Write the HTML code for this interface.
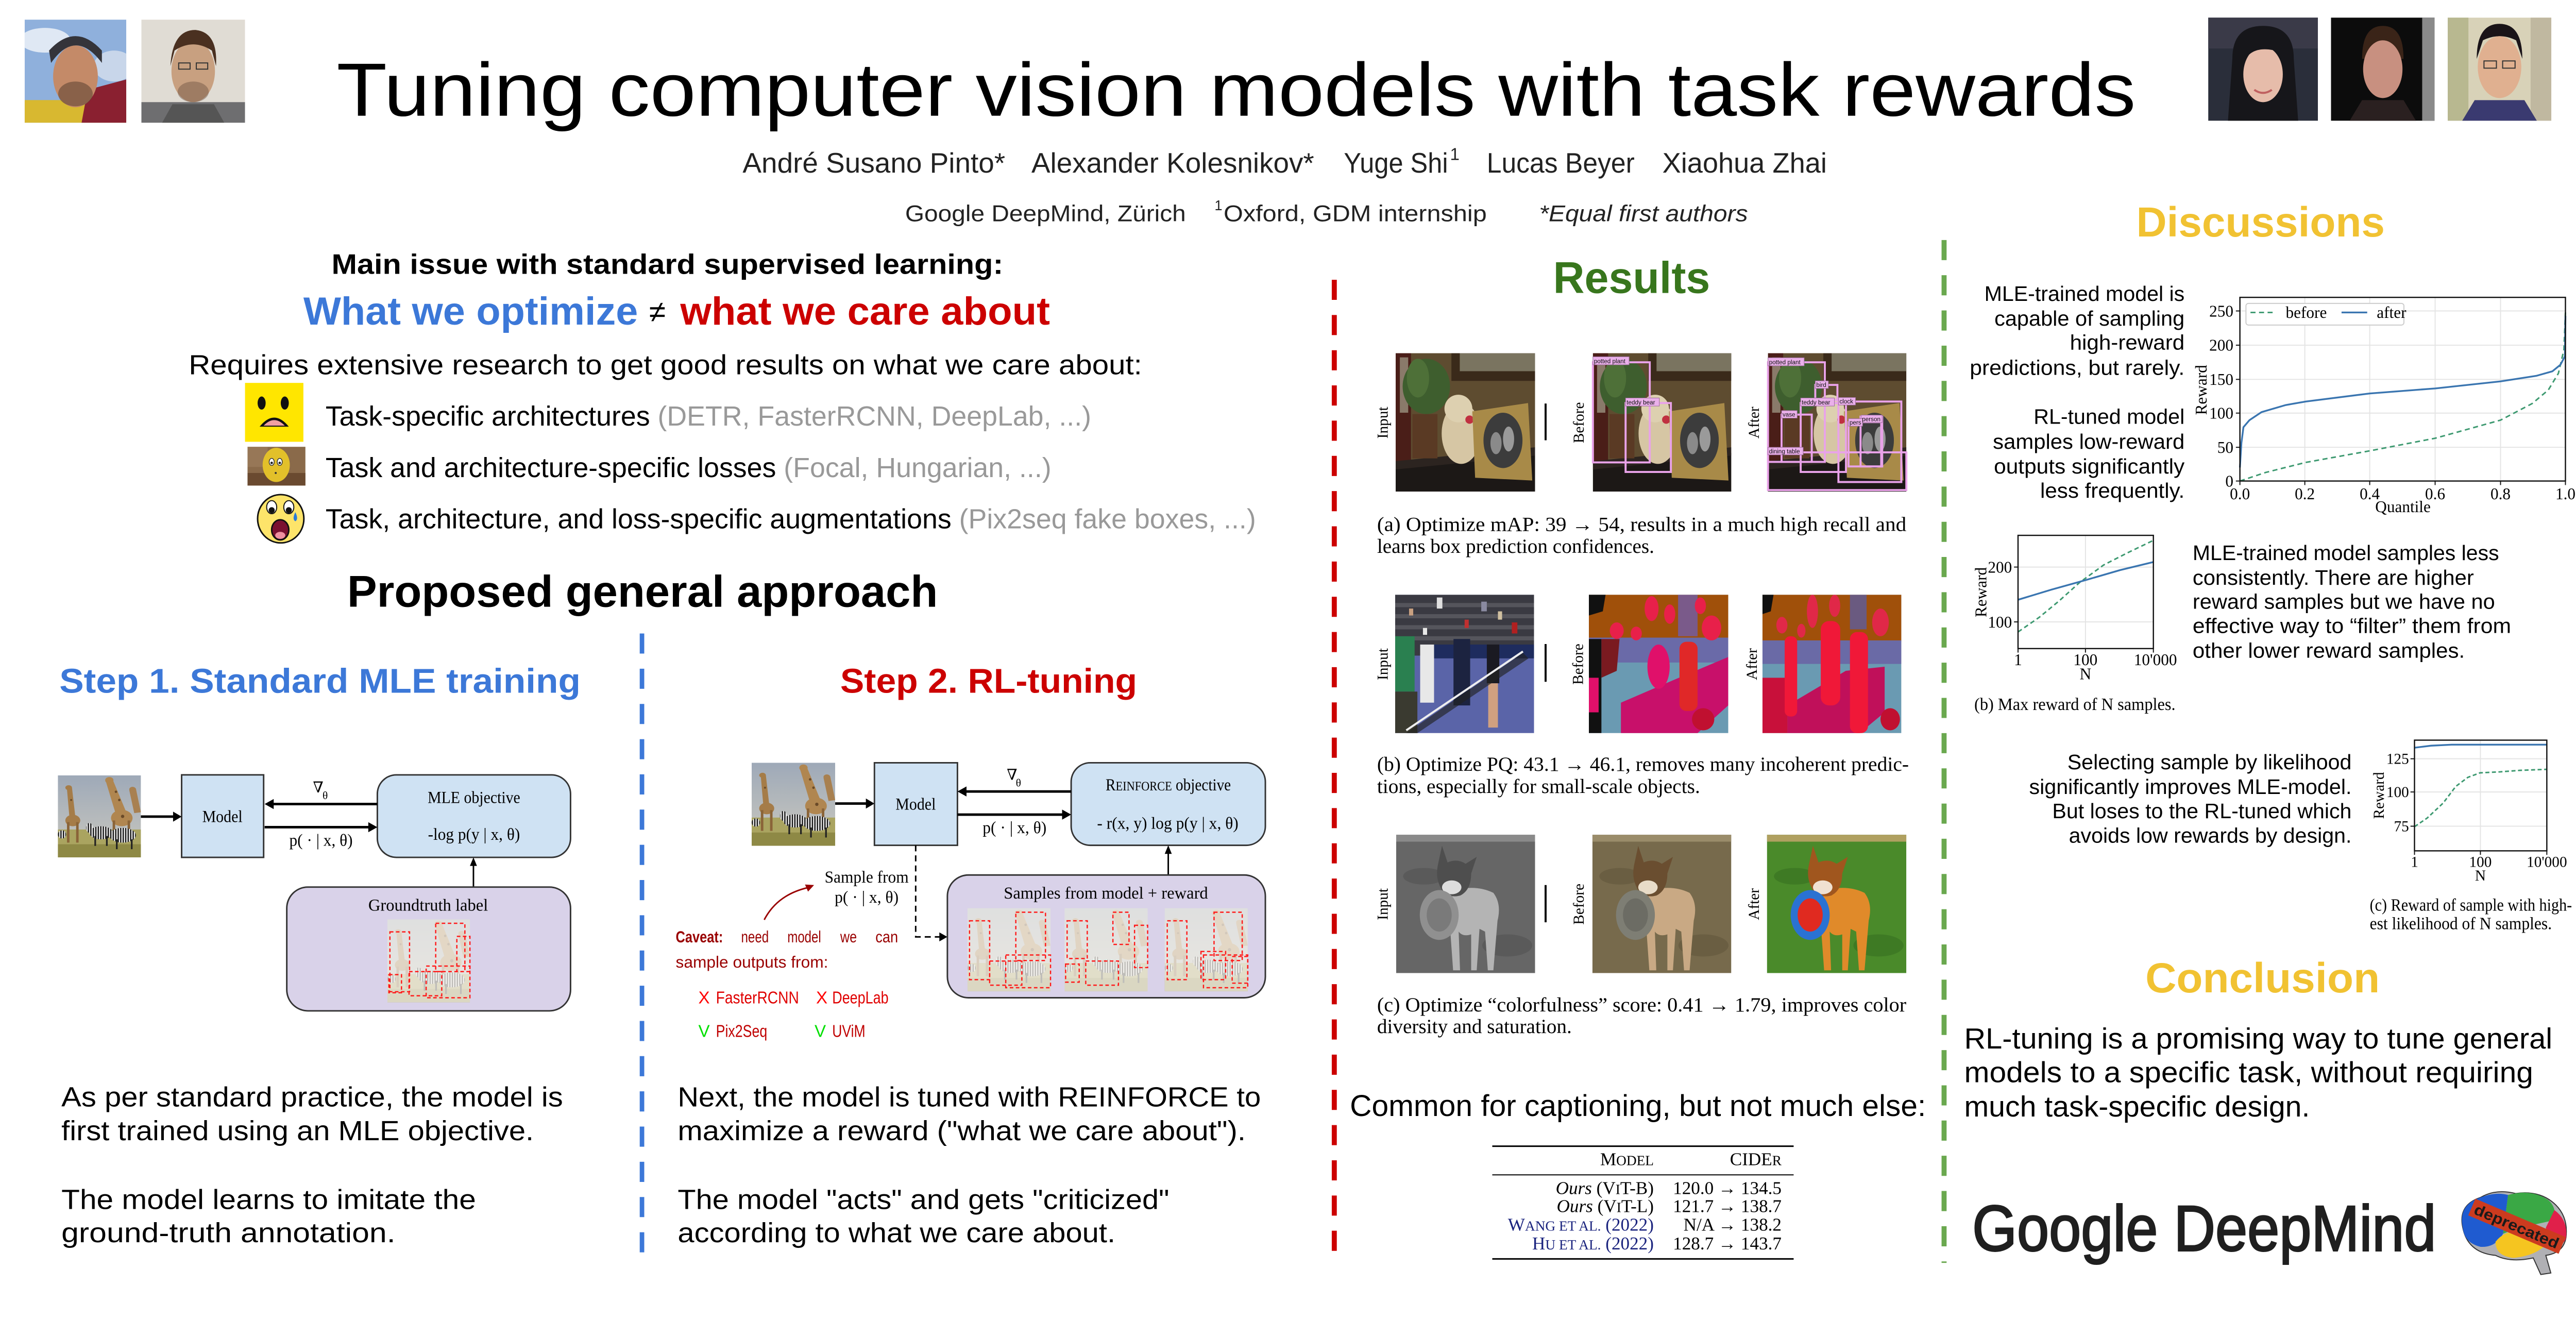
<!DOCTYPE html>
<html><head><meta charset="utf-8"><style>
html,body{margin:0;padding:0;background:#fff;width:100%;height:100%;overflow:hidden;}
svg.main{position:absolute;left:0;top:0;width:100vw;height:50vw;display:block}
.s{font-family:"Liberation Sans","DejaVu Sans",sans-serif;}
.r{font-family:"Liberation Serif","DejaVu Serif",serif;}
</style></head><body>
<svg class="main" viewBox="0 0 5120 2560" preserveAspectRatio="none" xmlns="http://www.w3.org/2000/svg">
<defs>
<linearGradient id="sky" x1="0" y1="0" x2="0" y2="1"><stop offset="0" stop-color="#9ea9b8"/><stop offset="1" stop-color="#cbc9bf"/></linearGradient>
<pattern id="zs" width="3" height="10" patternUnits="userSpaceOnUse"><rect width="1.5" height="10" fill="#151515"/><rect x="1.5" width="1.5" height="10" fill="#eeeeee"/></pattern>
<symbol id="gir" viewBox="0 0 100 100" preserveAspectRatio="none">
<rect width="100" height="100" fill="url(#sky)"/>
<rect y="66" width="100" height="34" fill="#aaa460"/>
<rect y="84" width="100" height="16" fill="#8e8945"/>
<polygon points="11,17 17,15 21,50 14,52" fill="#a57c48"/>
<ellipse cx="13" cy="15" rx="4" ry="3" fill="#a57c48"/>
<ellipse cx="18" cy="55" rx="9" ry="7" fill="#a57c48"/>
<rect x="11" y="57" width="3" height="25" fill="#8a6438"/><rect x="22" y="57" width="3" height="25" fill="#8a6438"/>
<polygon points="58,8 66,5 82,44 70,48" fill="#b08650"/>
<ellipse cx="62" cy="6" rx="5" ry="4" fill="#b08650"/>
<ellipse cx="77" cy="52" rx="13" ry="10" fill="#b08650"/>
<rect x="66" y="55" width="3" height="20" fill="#8a6438"/><rect x="84" y="55" width="3" height="20" fill="#8a6438"/>
<polygon points="86,18 94,16 100,45 92,46" fill="#a88050"/>
<ellipse cx="90" cy="17" rx="4" ry="3" fill="#a88050"/>
<circle cx="70" cy="20" r="1.5" fill="#6a4a28"/><circle cx="74" cy="30" r="1.5" fill="#6a4a28"/><circle cx="78" cy="50" r="2" fill="#6a4a28"/><circle cx="16" cy="30" r="1.2" fill="#6a4a28"/>
<ellipse cx="52" cy="70" rx="14" ry="8" fill="url(#zs)"/>
<ellipse cx="78" cy="73" rx="16" ry="9" fill="url(#zs)"/>
<ellipse cx="38" cy="64" rx="4" ry="6" fill="url(#zs)"/>
<rect x="44" y="74" width="2" height="12" fill="#222"/><rect x="58" y="74" width="2" height="12" fill="#222"/><rect x="70" y="78" width="2" height="12" fill="#222"/><rect x="88" y="78" width="2" height="12" fill="#222"/>
<ellipse cx="5" cy="72" rx="5" ry="5" fill="url(#zs)"/>
</symbol>
<symbol id="room" viewBox="0 0 100 100" preserveAspectRatio="none">
<rect width="100" height="100" fill="#5e4c30"/>
<rect x="0" y="0" width="11" height="82" fill="#4a1e18"/>
<rect x="3" y="3" width="6" height="40" fill="#8a7a6a"/>
<rect x="40" y="0" width="60" height="20" fill="#3a2a1a"/>
<rect x="46" y="0" width="54" height="13" fill="#7a7460"/>
<polygon points="0,82 100,72 100,100 0,100" fill="#1c1816"/>
<polygon points="0,78 100,68 100,74 0,84" fill="#2c2420"/>
<ellipse cx="22" cy="24" rx="17" ry="20" fill="#3e5e2e"/>
<ellipse cx="16" cy="18" rx="8" ry="14" fill="#4e7038"/>
<rect x="12" y="44" width="18" height="32" fill="#5a3a24"/>
<ellipse cx="47" cy="58" rx="14" ry="22" fill="#d6c6a4"/>
<circle cx="45" cy="40" r="10" fill="#ddd0b0"/>
<circle cx="53" cy="48" r="3" fill="#c03040"/>
<polygon points="55,42 95,36 98,92 57,90" fill="#a88a48"/>
<ellipse cx="77" cy="63" rx="14" ry="20" fill="#3c3c3c"/>
<ellipse cx="72" cy="65" rx="4" ry="8" fill="#8a8a8a"/><ellipse cx="81" cy="62" rx="4" ry="9" fill="#9a9a9a"/>
</symbol>
</defs>

<rect width="5120" height="2560" fill="#ffffff"/>

<!-- ===== Header photos ===== -->
<svg x="49" y="39" width="202" height="205" viewBox="0 0 100 100" preserveAspectRatio="none">
<rect width="100" height="100" fill="#8fb0dc"/>
<ellipse cx="20" cy="20" rx="25" ry="12" fill="#dfe8f4"/>
<ellipse cx="88" cy="45" rx="20" ry="15" fill="#c8d6ea"/>
<rect x="0" y="78" width="100" height="22" fill="#d8b830"/>
<polygon points="62,68 100,58 100,100 56,100" fill="#8a2030"/>
<ellipse cx="50" cy="55" rx="22" ry="30" fill="#c48a68"/>
<path d="M26,42 Q50,8 76,42 L76,30 Q50,2 24,30 Z" fill="#34343a"/>
<ellipse cx="50" cy="72" rx="17" ry="12" fill="#5a4030" opacity="0.55"/>
</svg>
<svg x="281" y="39" width="206" height="205" viewBox="0 0 100 100" preserveAspectRatio="none">
<rect width="100" height="100" fill="#e0dcd4"/>
<rect x="0" y="80" width="100" height="20" fill="#6e6e70"/>
<ellipse cx="50" cy="50" rx="21" ry="30" fill="#c8a080"/>
<path d="M28,45 Q30,10 52,10 Q74,12 72,45 L68,30 Q50,18 32,30 Z" fill="#4a3020"/>
<rect x="36" y="42" width="11" height="6" fill="none" stroke="#333" stroke-width="1"/><rect x="53" y="42" width="11" height="6" fill="none" stroke="#333" stroke-width="1"/>
<ellipse cx="50" cy="70" rx="15" ry="10" fill="#6a5040" opacity="0.45"/>
<polygon points="30,82 70,82 80,100 20,100" fill="#555"/>
</svg>
<svg x="4389" y="35" width="218" height="205" viewBox="0 0 100 100" preserveAspectRatio="none">
<rect width="100" height="100" fill="#2a2e3a"/>
<rect x="0" y="0" width="100" height="30" fill="#3a3a48"/>
<path d="M22,40 Q22,8 50,8 Q78,8 78,40 L82,100 L18,100 Z" fill="#16161a"/>
<ellipse cx="50" cy="55" rx="18" ry="27" fill="#e6bcaa"/>
<path d="M32,44 Q40,24 68,34 L68,28 Q50,14 32,30 Z" fill="#16161a"/>
<path d="M42,70 Q50,76 58,70" stroke="#c06060" stroke-width="2" fill="none"/>
</svg>
<svg x="4633" y="35" width="206" height="205" viewBox="0 0 100 100" preserveAspectRatio="none">
<rect width="100" height="100" fill="#0c0c0c"/>
<rect x="88" y="0" width="12" height="100" fill="#8a8a8a"/>
<path d="M30,40 Q30,8 50,8 Q70,8 70,40 Z" fill="#3a2418"/>
<ellipse cx="50" cy="50" rx="19" ry="28" fill="#c89080"/>
<polygon points="30,80 70,80 82,100 18,100" fill="#2a2020"/>
</svg>
<svg x="4865" y="35" width="206" height="205" viewBox="0 0 100 100" preserveAspectRatio="none">
<rect width="100" height="100" fill="#d8d2b8"/>
<rect x="0" y="0" width="20" height="100" fill="#b8b890"/>
<rect x="80" y="0" width="20" height="100" fill="#c0b8a0"/>
<path d="M28,40 Q28,6 50,6 Q72,6 72,40 L66,22 Q50,14 34,22 Z" fill="#1a1418"/>
<ellipse cx="50" cy="48" rx="21" ry="30" fill="#e0b090"/>
<rect x="35" y="42" width="12" height="7" fill="none" stroke="#333" stroke-width="1"/><rect x="53" y="42" width="12" height="7" fill="none" stroke="#333" stroke-width="1"/>
<polygon points="26,80 74,80 86,100 14,100" fill="#3a3a70"/>
</svg>

<!-- ===== Header text ===== -->
<text class="s" x="669" y="230" font-size="150" textLength="3576" lengthAdjust="spacingAndGlyphs" fill="#000">Tuning computer vision models with task rewards</text>
<g class="s" font-size="56" fill="#222">
<text x="1476" y="343" textLength="522" lengthAdjust="spacingAndGlyphs">André Susano Pinto*</text>
<text x="2050" y="343" textLength="562" lengthAdjust="spacingAndGlyphs">Alexander Kolesnikov*</text>
<text x="2671" y="343" textLength="207" lengthAdjust="spacingAndGlyphs">Yuge Shi</text>
<text x="2882" y="318" font-size="34">1</text>
<text x="2955" y="343" textLength="294" lengthAdjust="spacingAndGlyphs">Lucas Beyer</text>
<text x="3304" y="343" textLength="327" lengthAdjust="spacingAndGlyphs">Xiaohua Zhai</text>
</g>
<g class="s" font-size="46" fill="#222">
<text x="1799" y="440" textLength="558" lengthAdjust="spacingAndGlyphs">Google DeepMind, Zürich</text>
<text x="2414" y="418" font-size="28">1</text>
<text x="2432" y="440" textLength="523" lengthAdjust="spacingAndGlyphs">Oxford, GDM internship</text>
<text x="3059" y="440" font-style="italic" textLength="415" lengthAdjust="spacingAndGlyphs">*Equal first authors</text>
</g>

<!-- ===== Dashed dividers ===== -->
<line x1="1276" y1="1259" x2="1276" y2="2508" stroke="#3c78d8" stroke-width="9" stroke-dasharray="40 30"/>
<line x1="2652" y1="556" x2="2652" y2="2506" stroke="#cc0000" stroke-width="10" stroke-dasharray="40 30"/>
<line x1="3864" y1="477" x2="3864" y2="2510" stroke="#6aa84f" stroke-width="10" stroke-dasharray="40 30"/>

<!-- ===== Left column top ===== -->
<text class="s" x="659" y="544" font-size="56" font-weight="bold" textLength="1335" lengthAdjust="spacingAndGlyphs">Main issue with standard supervised learning:</text>
<text class="s" x="603" y="645" font-size="78" font-weight="bold" fill="#3c78d8" textLength="665" lengthAdjust="spacingAndGlyphs">What we optimize</text>
<text class="s" x="1290" y="640" font-size="60" fill="#000">≠</text>
<text class="s" x="1352" y="645" font-size="78" font-weight="bold" fill="#cc0000" textLength="735" lengthAdjust="spacingAndGlyphs">what we care about</text>
<text class="s" x="375" y="744" font-size="55" textLength="1895" lengthAdjust="spacingAndGlyphs">Requires  extensive research to get good results on what we care about:</text>

<!-- emoji 1 -->
<rect x="487" y="761" width="116" height="117" fill="#ffe600"/>
<ellipse cx="520" cy="801" rx="8" ry="13" fill="#111"/>
<ellipse cx="566" cy="801" rx="8" ry="13" fill="#111"/>
<path d="M516,848 Q545,812 574,848 Z" fill="#111"/>
<path d="M524,846 Q545,824 566,846 Z" fill="#f0a0a0"/>
<!-- emoji 2 -->
<rect x="492" y="888" width="115" height="77" fill="#8a6a4a"/>
<rect x="492" y="940" width="115" height="25" fill="#6a4a30"/>
<rect x="492" y="888" width="40" height="40" fill="#a08060" opacity="0.6"/>
<ellipse cx="549" cy="924" rx="27" ry="34" fill="#e2c02a"/>
<ellipse cx="540" cy="918" rx="5" ry="7" fill="#fff" stroke="#333" stroke-width="1.5"/>
<ellipse cx="556" cy="918" rx="5" ry="7" fill="#fff" stroke="#333" stroke-width="1.5"/>
<circle cx="540" cy="920" r="2.5" fill="#222"/><circle cx="556" cy="920" r="2.5" fill="#222"/>
<circle cx="548" cy="940" r="2" fill="#333"/>
<!-- emoji 3 -->
<ellipse cx="558" cy="1031" rx="46" ry="48" fill="#fde46a" stroke="#111" stroke-width="3"/>
<ellipse cx="540" cy="1008" rx="10" ry="13" fill="#fff" stroke="#111" stroke-width="2"/>
<ellipse cx="574" cy="1008" rx="10" ry="13" fill="#fff" stroke="#111" stroke-width="2"/>
<circle cx="540" cy="1014" r="6" fill="#111"/><circle cx="574" cy="1014" r="6" fill="#111"/>
<ellipse cx="557" cy="1053" rx="17" ry="20" fill="#7a1030" stroke="#111" stroke-width="3"/>
<ellipse cx="557" cy="1064" rx="10" ry="7" fill="#f090a0"/>
<path d="M587,1018 Q580,1032 587,1036 Q594,1032 587,1018 Z" fill="#2a7ad8"/>

<g class="s" font-size="55">
<text x="647" y="846"><tspan fill="#000">Task-specific architectures </tspan><tspan fill="#999">(DETR, FasterRCNN, DeepLab, ...)</tspan></text>
<text x="647" y="948"><tspan fill="#000">Task and architecture-specific losses </tspan><tspan fill="#999">(Focal, Hungarian, ...)</tspan></text>
<text x="647" y="1050"><tspan fill="#000">Task, architecture, and loss-specific augmentations </tspan><tspan fill="#999">(Pix2seq fake boxes, ...)</tspan></text>
</g>

<text class="s" x="690" y="1206" font-size="88" font-weight="bold" textLength="1174" lengthAdjust="spacingAndGlyphs">Proposed general approach</text>
<text class="s" x="118" y="1377" font-size="68" font-weight="bold" fill="#3c78d8" textLength="1036" lengthAdjust="spacingAndGlyphs">Step 1. Standard MLE training</text>
<text class="s" x="1670" y="1377" font-size="68" font-weight="bold" fill="#cc0000" textLength="590" lengthAdjust="spacingAndGlyphs">Step 2. RL-tuning</text>

<!-- ===== Left diagram (MLE) ===== -->
<use href="#gir" x="115" y="1541" width="165" height="163"/>
<rect x="361" y="1540" width="163" height="164" fill="#cfe2f3" stroke="#333" stroke-width="3"/>
<text class="r" x="442" y="1634" font-size="34" text-anchor="middle" textLength="80" lengthAdjust="spacingAndGlyphs">Model</text>
<line x1="280" y1="1623" x2="347" y2="1623" stroke="#000" stroke-width="5"/>
<polygon points="361,1623 344,1613 344,1633" fill="#000"/>
<rect x="750" y="1540" width="384" height="164" rx="38" fill="#cfe2f3" stroke="#333" stroke-width="3"/>
<text class="r" x="942" y="1596" font-size="34" text-anchor="middle" textLength="184" lengthAdjust="spacingAndGlyphs">MLE objective</text>
<text class="r" x="942" y="1669" font-size="34" text-anchor="middle" textLength="183" lengthAdjust="spacingAndGlyphs">-log p(y | x, θ)</text>
<line x1="750" y1="1598" x2="542" y2="1598" stroke="#000" stroke-width="5"/>
<polygon points="526,1598 544,1588 544,1608" fill="#000"/>
<line x1="526" y1="1644" x2="734" y2="1644" stroke="#000" stroke-width="5"/>
<polygon points="750,1644 732,1634 732,1654" fill="#000"/>
<text class="r" x="622" y="1575" font-size="30">∇</text>
<text class="r" x="641" y="1588" font-size="22">θ</text>
<text class="r" x="575" y="1681" font-size="34" textLength="126" lengthAdjust="spacingAndGlyphs">p( · | x, θ)</text>
<line x1="941" y1="1763" x2="941" y2="1718" stroke="#000" stroke-width="3"/>
<polygon points="941,1704 934,1721 948,1721" fill="#000"/>
<rect x="570" y="1763" width="564" height="246" rx="42" fill="#d9d2e9" stroke="#333" stroke-width="3"/>
<text class="r" x="851" y="1810" font-size="34" text-anchor="middle" textLength="238" lengthAdjust="spacingAndGlyphs">Groundtruth label</text>
<use href="#gir" x="770" y="1827" width="164" height="165"/>
<rect x="770" y="1827" width="164" height="165" fill="#f4f2ec" opacity="0.75"/>
<g fill="none" stroke="#ff1a1a" stroke-width="2.5" stroke-dasharray="7 5">
<rect x="775" y="1852" width="39" height="119"/>
<rect x="866" y="1835" width="58" height="96"/>
<rect x="908" y="1861" width="26" height="70"/>
<rect x="847" y="1920" width="87" height="63"/>
<rect x="813" y="1931" width="65" height="48"/>
<rect x="773" y="1937" width="25" height="36"/>
</g>

<!-- ===== Right diagram (RL) ===== -->
<use href="#gir" x="1494" y="1516" width="166" height="165"/>
<rect x="1738" y="1516" width="165" height="164" fill="#cfe2f3" stroke="#333" stroke-width="3"/>
<text class="r" x="1820" y="1609" font-size="34" text-anchor="middle" textLength="80" lengthAdjust="spacingAndGlyphs">Model</text>
<line x1="1660" y1="1597" x2="1724" y2="1597" stroke="#000" stroke-width="5"/>
<polygon points="1738,1597 1721,1587 1721,1607" fill="#000"/>
<rect x="2129" y="1516" width="386" height="164" rx="38" fill="#cfe2f3" stroke="#333" stroke-width="3"/>
<text class="r" x="2322" y="1571" font-size="34" text-anchor="middle" textLength="249" lengthAdjust="spacingAndGlyphs">R<tspan font-size="26">EINFORCE</tspan> objective</text>
<text class="r" x="2321" y="1647" font-size="34" text-anchor="middle" textLength="281" lengthAdjust="spacingAndGlyphs">- r(x, y) log p(y | x, θ)</text>
<line x1="2129" y1="1573" x2="1919" y2="1573" stroke="#000" stroke-width="5"/>
<polygon points="1903,1573 1921,1563 1921,1583" fill="#000"/>
<line x1="1903" y1="1619" x2="2113" y2="1619" stroke="#000" stroke-width="5"/>
<polygon points="2129,1619 2111,1609 2111,1629" fill="#000"/>
<text class="r" x="2001" y="1550" font-size="30">∇</text>
<text class="r" x="2019" y="1563" font-size="22">θ</text>
<text class="r" x="1953" y="1656" font-size="34" textLength="127" lengthAdjust="spacingAndGlyphs">p( · | x, θ)</text>
<path d="M1820,1680 V1862 H1868" fill="none" stroke="#000" stroke-width="3" stroke-dasharray="12 8"/>
<polygon points="1883,1862 1867,1853 1867,1871" fill="#000"/>
<line x1="2322" y1="1739" x2="2322" y2="1694" stroke="#000" stroke-width="3"/>
<polygon points="2322,1680 2315,1697 2329,1697" fill="#000"/>
<rect x="1883" y="1739" width="632" height="244" rx="42" fill="#d9d2e9" stroke="#333" stroke-width="3"/>
<text class="r" x="1995" y="1786" font-size="34" textLength="406" lengthAdjust="spacingAndGlyphs">Samples from model + reward</text>
<use href="#gir" x="1923" y="1805" width="165" height="165"/>
<use href="#gir" x="2116" y="1805" width="165" height="165"/>
<use href="#gir" x="2315" y="1805" width="165" height="165"/>
<g fill="#f4f2ec" opacity="0.75"><rect x="1923" y="1805" width="165" height="165"/><rect x="2116" y="1805" width="165" height="165"/><rect x="2315" y="1805" width="165" height="165"/></g>
<g fill="none" stroke="#ff1a1a" stroke-width="2.5" stroke-dasharray="7 5">
<rect x="1927" y="1830" width="40" height="117"/><rect x="2019" y="1813" width="59" height="96"/><rect x="1967" y="1910" width="64" height="48"/><rect x="1999" y="1898" width="89" height="65"/>
<rect x="2121" y="1830" width="40" height="75"/><rect x="2212" y="1813" width="32" height="64"/><rect x="2255" y="1839" width="26" height="84"/><rect x="2118" y="1916" width="27" height="36"/><rect x="2158" y="1910" width="65" height="48"/>
<rect x="2320" y="1830" width="39" height="117"/><rect x="2413" y="1813" width="56" height="96"/><rect x="2387" y="1891" width="49" height="56"/><rect x="2392" y="1898" width="88" height="65"/><rect x="2449" y="1901" width="31" height="53"/>
</g>
<text class="r" x="1639" y="1754" font-size="34" textLength="167" lengthAdjust="spacingAndGlyphs">Sample from</text>
<text class="r" x="1659" y="1794" font-size="34" textLength="127" lengthAdjust="spacingAndGlyphs">p( · | x, θ)</text>
<path d="M1519,1828 Q1545,1778 1606,1764" fill="none" stroke="#990000" stroke-width="3"/>
<polygon points="1618,1759 1600,1758 1606,1772" fill="#990000"/>
<g class="s" fill="#990000" font-size="32">
<text x="1343" y="1873" font-weight="bold" textLength="94" lengthAdjust="spacingAndGlyphs">Caveat:</text>
<text x="1473" y="1873" textLength="55" lengthAdjust="spacingAndGlyphs">need</text>
<text x="1565" y="1873" textLength="67" lengthAdjust="spacingAndGlyphs">model</text>
<text x="1670" y="1873" textLength="33" lengthAdjust="spacingAndGlyphs">we</text>
<text x="1740" y="1873" textLength="45" lengthAdjust="spacingAndGlyphs">can</text>
<text x="1343" y="1923" textLength="303" lengthAdjust="spacingAndGlyphs">sample outputs from:</text>
</g>
<g class="s" font-size="34">
<text x="1388" y="1994" fill="#ff0000">X</text>
<text x="1423" y="1994" fill="#e00000" textLength="165" lengthAdjust="spacingAndGlyphs">FasterRCNN</text>
<text x="1622" y="1994" fill="#ff0000">X</text>
<text x="1654" y="1994" fill="#e00000" textLength="112" lengthAdjust="spacingAndGlyphs">DeepLab</text>
<text x="1388" y="2061" fill="#00e000">V</text>
<text x="1423" y="2061" fill="#c00000" textLength="102" lengthAdjust="spacingAndGlyphs">Pix2Seq</text>
<text x="1619" y="2061" fill="#00e000">V</text>
<text x="1654" y="2061" fill="#c00000" textLength="66" lengthAdjust="spacingAndGlyphs">UViM</text>
</g>

<!-- bottom text -->
<g class="s" font-size="55" fill="#000">
<text x="122" y="2199" textLength="997" lengthAdjust="spacingAndGlyphs">As per standard practice, the model is</text>
<text x="122" y="2266" textLength="939" lengthAdjust="spacingAndGlyphs">first trained using an MLE objective.</text>
<text x="122" y="2403" textLength="824" lengthAdjust="spacingAndGlyphs">The model learns to imitate the</text>
<text x="122" y="2469" textLength="664" lengthAdjust="spacingAndGlyphs">ground-truth annotation.</text>
<text x="1347" y="2199" textLength="1159" lengthAdjust="spacingAndGlyphs">Next, the model is tuned with REINFORCE to</text>
<text x="1347" y="2266" textLength="1129" lengthAdjust="spacingAndGlyphs">maximize a reward ("what we care about").</text>
<text x="1347" y="2403" textLength="977" lengthAdjust="spacingAndGlyphs">The model "acts" and gets "criticized"</text>
<text x="1347" y="2469" textLength="870" lengthAdjust="spacingAndGlyphs">according to what we care about.</text>
</g>

<!-- ===== Results column ===== -->
<text class="s" x="3087" y="582" font-size="88" font-weight="bold" fill="#38761d" textLength="312" lengthAdjust="spacingAndGlyphs">Results</text>

<g class="r" font-size="30" fill="#000">
<text transform="translate(2758,840) rotate(-90)" text-anchor="middle">Input</text>
<text transform="translate(3148,840) rotate(-90)" text-anchor="middle">Before</text>
<text transform="translate(3496,840) rotate(-90)" text-anchor="middle">After</text>
<text transform="translate(2758,1320) rotate(-90)" text-anchor="middle">Input</text>
<text transform="translate(3146,1320) rotate(-90)" text-anchor="middle">Before</text>
<text transform="translate(3492,1320) rotate(-90)" text-anchor="middle">After</text>
<text transform="translate(2758,1797) rotate(-90)" text-anchor="middle">Input</text>
<text transform="translate(3148,1797) rotate(-90)" text-anchor="middle">Before</text>
<text transform="translate(3496,1797) rotate(-90)" text-anchor="middle">After</text>
</g>
<rect x="3070" y="802" width="4" height="73" fill="#000"/>
<rect x="3070" y="1280" width="4" height="75" fill="#000"/>
<rect x="3070" y="1759" width="4" height="74" fill="#000"/>

<!-- row a -->
<use href="#room" x="2774" y="702" width="277" height="275"/>
<use href="#room" x="3166" y="702" width="275" height="275"/>
<use href="#room" x="3514" y="702" width="275" height="275"/>
<g fill="none" stroke="#e9a2e9" stroke-width="4">
<rect x="3166" y="720" width="113" height="199"/>
<rect x="3231" y="801" width="90" height="137"/>
<rect x="3514" y="720" width="113" height="198"/>
<rect x="3608" y="765" width="44" height="30"/>
<rect x="3579" y="801" width="90" height="137"/>
<rect x="3654" y="798" width="125" height="160"/>
<rect x="3541" y="824" width="60" height="94"/>
<rect x="3674" y="839" width="65" height="88"/>
<rect x="3698" y="828" width="43" height="99"/>
<rect x="3514" y="899" width="275" height="75"/>
</g>
<g fill="#eab0ea" stroke="#9a6a9a" stroke-width="1">
<rect x="3166" y="709" width="72" height="16"/><rect x="3231" y="791" width="67" height="16"/>
<rect x="3514" y="711" width="72" height="16"/><rect x="3608" y="757" width="26" height="15"/><rect x="3579" y="791" width="67" height="16"/><rect x="3654" y="790" width="34" height="15"/><rect x="3541" y="816" width="31" height="15"/><rect x="3699" y="825" width="42" height="15"/><rect x="3674" y="832" width="28" height="15"/><rect x="3514" y="889" width="70" height="15"/>
</g>
<g class="s" font-size="12" fill="#111">
<text x="3168" y="722">potted plant</text><text x="3233" y="804">teddy bear</text>
<text x="3516" y="724">potted plant</text><text x="3610" y="769">bird</text><text x="3581" y="804">teddy bear</text><text x="3656" y="802">clock</text><text x="3543" y="828">vase</text><text x="3701" y="837">person</text><text x="3676" y="844">pers</text><text x="3516" y="901">dining table</text>
</g>
<g class="r" font-size="40" fill="#000">
<text x="2737" y="1055" textLength="1052" lengthAdjust="spacingAndGlyphs">(a) Optimize mAP: 39 → 54, results in a much high recall and</text>
<text x="2737" y="1099" textLength="551" lengthAdjust="spacingAndGlyphs">learns box prediction confidences.</text>
</g>

<!-- row b -->
<svg x="2773" y="1182" width="276" height="275" viewBox="0 0 100 100" preserveAspectRatio="none">
<rect width="100" height="100" fill="#5a64a8"/>
<rect width="100" height="44" fill="#3a3a42"/>
<g fill="#55555c"><rect y="6" width="100" height="3"/><rect y="14" width="100" height="3"/><rect y="22" width="100" height="3"/><rect y="30" width="100" height="3"/></g>
<g><rect x="10" y="10" width="3" height="5" fill="#c8a080"/><rect x="30" y="2" width="4" height="8" fill="#e0e0e0"/><rect x="50" y="18" width="3" height="6" fill="#c03030"/><rect x="62" y="5" width="4" height="7" fill="#8a8aa0"/><rect x="84" y="20" width="4" height="8" fill="#b02020"/><rect x="20" y="24" width="3" height="5" fill="#e8e8e8"/><rect x="74" y="12" width="3" height="6" fill="#d0c0a0"/></g>
<rect x="28" y="36" width="72" height="10" fill="#1e2c5e"/>
<rect x="0" y="30" width="14" height="40" fill="#2a8050"/>
<rect x="0" y="70" width="16" height="30" fill="#3a3a30"/>
<rect x="18" y="36" width="10" height="42" fill="#e8e8e8"/>
<rect x="42" y="32" width="12" height="48" fill="#1c2340"/>
<rect x="66" y="36" width="9" height="28" fill="#1a1a22"/>
<rect x="67" y="64" width="7" height="32" fill="#d0a080"/>
<polygon points="8,100 92,42 96,46 16,100" fill="#222" opacity="0.65"/>
<line x1="8" y1="98" x2="92" y2="41" stroke="#eee" stroke-width="1.5"/>
</svg>
<svg x="3158" y="1182" width="277" height="275" viewBox="0 0 100 100" preserveAspectRatio="none">
<rect width="100" height="100" fill="#6a9ab2"/>
<rect width="100" height="32" fill="#a0500a"/>
<rect y="31" width="100" height="18" fill="#6a6aa8"/>
<polygon points="0,0 12,0 10,12 0,15" fill="#111"/>
<rect x="0" y="32" width="9" height="68" fill="#111"/>
<rect x="0" y="60" width="7" height="25" fill="#e0106a"/>
<polygon points="23,100 23,78 60,62 100,45 100,80 78,100" fill="#c8106a"/>
<polygon points="9,32 22,32 20,55 9,60" fill="#7a1a20"/>
<ellipse cx="50" cy="52" rx="8" ry="16" fill="#e0106a"/>
<rect x="64" y="0" width="14" height="30" fill="#7a5a8a"/>
<rect x="65" y="34" width="13" height="50" rx="5" fill="#e02828"/>
<g fill="#e8204a"><ellipse cx="45" cy="10" rx="5" ry="9"/><ellipse cx="58" cy="14" rx="4" ry="7"/><ellipse cx="88" cy="24" rx="7" ry="9"/><ellipse cx="20" cy="26" rx="5" ry="6"/><ellipse cx="34" cy="28" rx="4" ry="5"/><ellipse cx="80" cy="8" rx="4" ry="6"/></g>
<ellipse cx="82" cy="90" rx="8" ry="8" fill="#c01030"/>
</svg>
<svg x="3503" y="1182" width="276" height="275" viewBox="0 0 100 100" preserveAspectRatio="none">
<rect width="100" height="100" fill="#6a9ab2"/>
<rect width="100" height="34" fill="#a0500a"/>
<rect y="33" width="100" height="17" fill="#6a6aa6"/>
<polygon points="0,0 8,0 6,12 0,14" fill="#111"/>
<rect x="0" y="60" width="18" height="40" fill="#c8103a"/>
<polygon points="18,100 18,80 60,55 88,52 88,85 70,100" fill="#c0105a"/>
<rect x="63" y="0" width="12" height="25" fill="#6a5a80"/>
<g fill="#f01838"><rect x="16" y="30" width="9" height="58" rx="4"/><rect x="42" y="19" width="14" height="61" rx="6"/><rect x="63" y="27" width="13" height="73" rx="5"/></g>
<g fill="#e02848"><ellipse cx="36" cy="12" rx="4" ry="12"/><ellipse cx="52" cy="8" rx="4" ry="8"/><ellipse cx="85" cy="20" rx="6" ry="10"/><ellipse cx="14" cy="22" rx="4" ry="6"/><ellipse cx="28" cy="26" rx="3" ry="5"/></g>
<ellipse cx="92" cy="90" rx="7" ry="8" fill="#c01030"/>
</svg>
<g class="r" font-size="40" fill="#000">
<text x="2737" y="1532" textLength="1057" lengthAdjust="spacingAndGlyphs">(b) Optimize PQ: 43.1 → 46.1, removes many incoherent predic-</text>
<text x="2737" y="1576" textLength="642" lengthAdjust="spacingAndGlyphs">tions, especially for small-scale objects.</text>
</g>

<!-- row c -->
<svg x="2775" y="1659" width="276" height="275" viewBox="0 0 100 100" preserveAspectRatio="none">
<rect width="100" height="100" fill="#666"/><rect width="100" height="5" fill="#8a8a8a"/>
<ellipse cx="20" cy="30" rx="15" ry="6" fill="#5a5a5a"/><ellipse cx="80" cy="80" rx="18" ry="8" fill="#5a5a5a"/>
<path d="M42,40 Q58,36 70,42 Q76,50 73,62 L70,98 L66,98 L64,70 L60,68 L58,98 L54,98 L54,72 Q48,74 45,70 L46,98 L41,98 L39,70 Q36,55 42,40 Z" fill="#b4b4b4"/>
<path d="M30,22 L33,8 L37,20 Q44,17 50,21 L58,16 L54,28 Q54,40 46,44 Q38,46 33,40 Q28,32 30,22 Z" fill="#4e4e4e"/>
<ellipse cx="40" cy="38" rx="7" ry="5" fill="#ddd"/>
<ellipse cx="31" cy="58" rx="14" ry="18" fill="#909090"/><ellipse cx="31" cy="58" rx="9" ry="12" fill="#7a7a7a"/>
</svg>
<svg x="3165" y="1659" width="276" height="275" viewBox="0 0 100 100" preserveAspectRatio="none">
<rect width="100" height="100" fill="#776a4c"/><rect width="100" height="5" fill="#9a8c6a"/>
<ellipse cx="20" cy="30" rx="15" ry="6" fill="#6a5e42"/><ellipse cx="80" cy="80" rx="18" ry="8" fill="#6a5e42"/>
<path d="M42,40 Q58,36 70,42 Q76,50 73,62 L70,98 L66,98 L64,70 L60,68 L58,98 L54,98 L54,72 Q48,74 45,70 L46,98 L41,98 L39,70 Q36,55 42,40 Z" fill="#c9a984"/>
<path d="M30,22 L33,8 L37,20 Q44,17 50,21 L58,16 L54,28 Q54,40 46,44 Q38,46 33,40 Q28,32 30,22 Z" fill="#6a4e30"/>
<ellipse cx="40" cy="38" rx="7" ry="5" fill="#e8dcc8"/>
<ellipse cx="31" cy="58" rx="14" ry="18" fill="#7e7e74"/><ellipse cx="31" cy="58" rx="9" ry="12" fill="#6c6c64"/>
</svg>
<svg x="3512" y="1659" width="277" height="275" viewBox="0 0 100 100" preserveAspectRatio="none">
<rect width="100" height="100" fill="#4a8a2a"/><rect width="100" height="5" fill="#b0a060"/>
<ellipse cx="20" cy="30" rx="15" ry="6" fill="#3e7a24"/><ellipse cx="80" cy="80" rx="18" ry="8" fill="#3e7a24"/>
<path d="M42,40 Q58,36 70,42 Q76,50 73,62 L70,98 L66,98 L64,70 L60,68 L58,98 L54,98 L54,72 Q48,74 45,70 L46,98 L41,98 L39,70 Q36,55 42,40 Z" fill="#e08a2a"/>
<path d="M30,22 L33,8 L37,20 Q44,17 50,21 L58,16 L54,28 Q54,40 46,44 Q38,46 33,40 Q28,32 30,22 Z" fill="#a0561e"/>
<ellipse cx="40" cy="38" rx="7" ry="5" fill="#f0e0d0"/>
<ellipse cx="31" cy="58" rx="14" ry="18" fill="#2a72d2"/><ellipse cx="31" cy="58" rx="9" ry="12" fill="#e02a20"/>
</svg>
<g class="r" font-size="40" fill="#000">
<text x="2737" y="2010" textLength="1052" lengthAdjust="spacingAndGlyphs">(c) Optimize “colorfulness” score: 0.41 → 1.79, improves color</text>
<text x="2737" y="2053" textLength="387" lengthAdjust="spacingAndGlyphs">diversity and saturation.</text>
</g>

<text class="s" x="2683" y="2218" font-size="60" textLength="1145" lengthAdjust="spacingAndGlyphs">Common for captioning, but not much else:</text>

<!-- table -->
<line x1="2966" y1="2278" x2="3565" y2="2278" stroke="#000" stroke-width="3"/>
<line x1="2966" y1="2335" x2="3565" y2="2335" stroke="#000" stroke-width="2"/>
<line x1="2966" y1="2502" x2="3565" y2="2502" stroke="#000" stroke-width="3"/>
<g class="r" font-size="36" fill="#000" text-anchor="end">
<text x="3287" y="2316">M<tspan font-size="28">ODEL</tspan></text>
<text x="3541" y="2316">CIDE<tspan font-size="28">R</tspan></text>
<text x="3287" y="2373"><tspan font-style="italic">Ours</tspan> (V<tspan font-size="28">I</tspan>T-B)</text>
<text x="3287" y="2409"><tspan font-style="italic">Ours</tspan> (V<tspan font-size="28">I</tspan>T-L)</text>
<text x="3287" y="2446" fill="#1a237e">W<tspan font-size="28">ANG ET AL.</tspan> (2022)</text>
<text x="3287" y="2483" fill="#1a237e">H<tspan font-size="28">U ET AL.</tspan> (2022)</text>
<text x="3541" y="2373">120.0 → 134.5</text>
<text x="3541" y="2409">121.7 → 138.7</text>
<text x="3541" y="2446">N/A → 138.2</text>
<text x="3541" y="2483">128.7 → 143.7</text>
</g>

<!-- ===== Discussions ===== -->
<text class="s" x="4246" y="470" font-size="84" font-weight="bold" fill="#f1c232" textLength="494" lengthAdjust="spacingAndGlyphs">Discussions</text>
<g class="s" font-size="42" fill="#000" text-anchor="end">
<text x="4342" y="598" textLength="398" lengthAdjust="spacingAndGlyphs">MLE-trained model is</text>
<text x="4342" y="647" textLength="378" lengthAdjust="spacingAndGlyphs">capable of sampling</text>
<text x="4342" y="695" textLength="228" lengthAdjust="spacingAndGlyphs">high-reward</text>
<text x="4342" y="745" textLength="427" lengthAdjust="spacingAndGlyphs">predictions, but rarely.</text>
<text x="4342" y="842" textLength="300" lengthAdjust="spacingAndGlyphs">RL-tuned model</text>
<text x="4342" y="892" textLength="381" lengthAdjust="spacingAndGlyphs">samples low-reward</text>
<text x="4342" y="941" textLength="379" lengthAdjust="spacingAndGlyphs">outputs significantly</text>
<text x="4342" y="989" textLength="287" lengthAdjust="spacingAndGlyphs">less frequently.</text>
</g>

<!-- chart 1 -->
<g stroke="#e4e4e4" stroke-width="2">
<line x1="4581" y1="591" x2="4581" y2="956"/><line x1="4710" y1="591" x2="4710" y2="956"/><line x1="4840" y1="591" x2="4840" y2="956"/><line x1="4970" y1="591" x2="4970" y2="956"/>
<line x1="4452" y1="618" x2="5099" y2="618"/><line x1="4452" y1="686" x2="5099" y2="686"/><line x1="4452" y1="754" x2="5099" y2="754"/><line x1="4452" y1="821" x2="5099" y2="821"/><line x1="4452" y1="889" x2="5099" y2="889"/>
</g>
<polyline fill="none" stroke="#3d9970" stroke-width="3" stroke-dasharray="10 7" points="4452,956 4503,939 4583,919 4710,896 4840,871 4970,835 5033,802 5065,775 5085,742 5096,695 5099,621"/>
<polyline fill="none" stroke="#3a75b0" stroke-width="3.5" points="4452,929 4455,880 4459,849 4471,835 4495,819 4543,805 4583,798 4710,782 4840,772 4970,758 5041,747 5073,738 5089,725 5098,708 5099,628"/>
<rect x="4452" y="591" width="647" height="365" fill="none" stroke="#111" stroke-width="2.5"/>
<rect x="4464" y="603" width="314" height="43" rx="5" fill="#fff" stroke="#ccc" stroke-width="2"/>
<line x1="4473" y1="621" x2="4523" y2="621" stroke="#3d9970" stroke-width="3" stroke-dasharray="10 7"/>
<line x1="4654" y1="621" x2="4705" y2="621" stroke="#3a75b0" stroke-width="3.5"/>
<g class="r" font-size="32" fill="#000">
<text x="4543" y="632">before</text><text x="4724" y="632">after</text>
</g>
<g stroke="#111" stroke-width="2">
<line x1="4444" y1="618" x2="4452" y2="618"/><line x1="4444" y1="686" x2="4452" y2="686"/><line x1="4444" y1="754" x2="4452" y2="754"/><line x1="4444" y1="821" x2="4452" y2="821"/><line x1="4444" y1="889" x2="4452" y2="889"/><line x1="4444" y1="956" x2="4452" y2="956"/>
<line x1="4452" y1="956" x2="4452" y2="964"/><line x1="4581" y1="956" x2="4581" y2="964"/><line x1="4710" y1="956" x2="4710" y2="964"/><line x1="4840" y1="956" x2="4840" y2="964"/><line x1="4970" y1="956" x2="4970" y2="964"/><line x1="5099" y1="956" x2="5099" y2="964"/>
</g>
<g class="r" font-size="32" fill="#000" text-anchor="end">
<text x="4439" y="629">250</text><text x="4439" y="697">200</text><text x="4439" y="765">150</text><text x="4439" y="832">100</text><text x="4439" y="900">50</text><text x="4439" y="967">0</text>
</g>
<g class="r" font-size="32" fill="#000" text-anchor="middle">
<text x="4452" y="992">0.0</text><text x="4581" y="992">0.2</text><text x="4710" y="992">0.4</text><text x="4840" y="992">0.6</text><text x="4970" y="992">0.8</text><text x="5099" y="992">1.0</text>
<text x="4776" y="1018">Quantile</text>
<text transform="translate(4386,775) rotate(-90)">Reward</text>
</g>

<!-- chart 2 -->
<g stroke="#e4e4e4" stroke-width="2">
<line x1="4145" y1="1064" x2="4145" y2="1289"/>
<line x1="4011" y1="1127" x2="4280" y2="1127"/><line x1="4011" y1="1236" x2="4280" y2="1236"/>
</g>
<polyline fill="none" stroke="#3d9970" stroke-width="3" stroke-dasharray="9 6" points="4011,1256 4053,1227 4093,1194 4133,1158 4181,1123 4230,1098 4280,1074"/>
<polyline fill="none" stroke="#3a75b0" stroke-width="3.5" points="4011,1192 4077,1172 4145,1153 4214,1133 4280,1117"/>
<rect x="4011" y="1064" width="269" height="225" fill="none" stroke="#111" stroke-width="2.5"/>
<g stroke="#111" stroke-width="2"><line x1="4003" y1="1127" x2="4011" y2="1127"/><line x1="4003" y1="1236" x2="4011" y2="1236"/><line x1="4011" y1="1289" x2="4011" y2="1297"/><line x1="4145" y1="1289" x2="4145" y2="1297"/><line x1="4280" y1="1289" x2="4280" y2="1297"/></g>
<g class="r" font-size="32" fill="#000">
<text x="3999" y="1138" text-anchor="end">200</text><text x="3999" y="1247" text-anchor="end">100</text>
<text x="4011" y="1322" text-anchor="middle">1</text><text x="4145" y="1322" text-anchor="middle">100</text><text x="4284" y="1322" text-anchor="middle">10'000</text>
<text x="4145" y="1350" text-anchor="middle">N</text>
<text transform="translate(3948,1177) rotate(-90)" text-anchor="middle">Reward</text>
<text x="3924" y="1411" font-size="35" textLength="400" lengthAdjust="spacingAndGlyphs">(b) Max reward of N samples.</text>
</g>
<g class="s" font-size="42" fill="#000">
<text x="4358" y="1113" textLength="609" lengthAdjust="spacingAndGlyphs">MLE-trained model samples less</text>
<text x="4358" y="1162" textLength="559" lengthAdjust="spacingAndGlyphs">consistently. There are higher</text>
<text x="4358" y="1210" textLength="601" lengthAdjust="spacingAndGlyphs">reward samples but we have no</text>
<text x="4358" y="1258" textLength="633" lengthAdjust="spacingAndGlyphs">effective way to “filter” them from</text>
<text x="4358" y="1307" textLength="541" lengthAdjust="spacingAndGlyphs">other lower reward samples.</text>
</g>

<!-- chart 3 -->
<g class="s" font-size="42" fill="#000" text-anchor="end">
<text x="4674" y="1529" textLength="565" lengthAdjust="spacingAndGlyphs">Selecting sample by likelihood</text>
<text x="4674" y="1578" textLength="641" lengthAdjust="spacingAndGlyphs">significantly improves MLE-model.</text>
<text x="4674" y="1626" textLength="595" lengthAdjust="spacingAndGlyphs">But loses to the RL-tuned which</text>
<text x="4674" y="1675" textLength="562" lengthAdjust="spacingAndGlyphs">avoids low rewards by design.</text>
</g>
<g stroke="#e4e4e4" stroke-width="2">
<line x1="4930" y1="1471" x2="4930" y2="1691"/>
<line x1="4799" y1="1508" x2="5062" y2="1508"/><line x1="4799" y1="1574" x2="5062" y2="1574"/><line x1="4799" y1="1642" x2="5062" y2="1642"/>
</g>
<polyline fill="none" stroke="#3d9970" stroke-width="3" stroke-dasharray="8 5" points="4799,1643 4824,1626 4856,1596 4881,1563 4905,1545 4929,1536 4969,1534 5009,1531 5062,1529"/>
<polyline fill="none" stroke="#3a75b0" stroke-width="3.5" points="4799,1486 4832,1482 4873,1480 5062,1480"/>
<rect x="4799" y="1471" width="263" height="220" fill="none" stroke="#111" stroke-width="2.5"/>
<g stroke="#111" stroke-width="2"><line x1="4791" y1="1508" x2="4799" y2="1508"/><line x1="4791" y1="1574" x2="4799" y2="1574"/><line x1="4791" y1="1642" x2="4799" y2="1642"/><line x1="4799" y1="1691" x2="4799" y2="1699"/><line x1="4930" y1="1691" x2="4930" y2="1699"/><line x1="5062" y1="1691" x2="5062" y2="1699"/></g>
<g class="r" font-size="30" fill="#000">
<text x="4788" y="1518" text-anchor="end">125</text><text x="4788" y="1584" text-anchor="end">100</text><text x="4788" y="1652" text-anchor="end">75</text>
<text x="4799" y="1723" text-anchor="middle">1</text><text x="4930" y="1723" text-anchor="middle">100</text><text x="5062" y="1723" text-anchor="middle">10'000</text>
<text x="4930" y="1750" text-anchor="middle">N</text>
<text transform="translate(4738,1581) rotate(-90)" text-anchor="middle">Reward</text>
<text x="4710" y="1810" font-size="35" textLength="402" lengthAdjust="spacingAndGlyphs">(c) Reward of sample with high-</text>
<text x="4710" y="1847" font-size="35" textLength="362" lengthAdjust="spacingAndGlyphs">est likelihood of N samples.</text>
</g>

<!-- Conclusion -->
<text class="s" x="4264" y="1972" font-size="84" font-weight="bold" fill="#f1c232" textLength="466" lengthAdjust="spacingAndGlyphs">Conclusion</text>
<g class="s" font-size="58" fill="#000">
<text x="3904" y="2084" textLength="1169" lengthAdjust="spacingAndGlyphs">RL-tuning is a promising way to tune general</text>
<text x="3904" y="2151" textLength="1131" lengthAdjust="spacingAndGlyphs">models to a specific task, without requiring</text>
<text x="3904" y="2219" textLength="687" lengthAdjust="spacingAndGlyphs">much task-specific design.</text>
</g>

<!-- Google DeepMind logo -->
<text class="s" x="3920" y="2486" font-size="128" fill="#1f1f1f" stroke="#1f1f1f" stroke-width="3" textLength="922" lengthAdjust="spacingAndGlyphs">Google DeepMind</text>
<g>
<path d="M4895,2440 Q4885,2395 4930,2380 Q4960,2362 5000,2372 Q5050,2365 5080,2395 Q5105,2420 5100,2460 Q5095,2490 5060,2495 L5070,2530 L5050,2533 L5035,2500 Q4990,2510 4960,2495 Q4905,2490 4895,2440 Z" fill="#b0b0b4" stroke="#333" stroke-width="2"/>
<path d="M4895,2440 Q4885,2395 4930,2380 Q4960,2368 4985,2375 L4975,2452 Q4960,2480 4930,2478 Q4898,2470 4895,2440Z" fill="#1f5bd0"/>
<path d="M4985,2375 Q5030,2362 5065,2385 Q5082,2400 5077,2425 L5000,2442 L4975,2452 Z" fill="#3aa845"/>
<path d="M5077,2405 Q5105,2425 5100,2462 Q5090,2482 5068,2478 L5060,2440 Z" fill="#e0204a"/>
<path d="M4960,2468 Q4980,2442 5020,2447 Q5055,2452 5062,2472 Q5040,2496 4995,2500 Q4960,2496 4960,2468Z" fill="#f5c520"/>
<g transform="rotate(23 5000 2437)">
<rect x="4905" y="2418" width="195" height="36" fill="#cc3b1f"/>
<text class="s" x="4912" y="2447" font-size="30" font-weight="bold" fill="#1a1a1a" textLength="180" lengthAdjust="spacingAndGlyphs">deprecated</text>
</g>
</g>
</svg>
</body></html>
